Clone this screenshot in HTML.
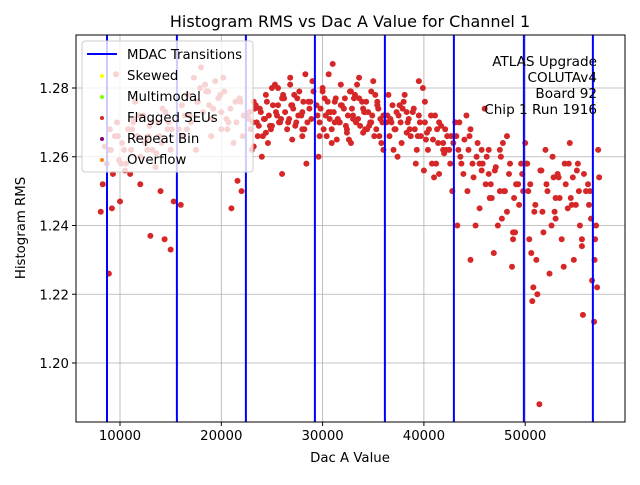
<!DOCTYPE html>
<html><head><meta charset="utf-8"><style>
html,body{margin:0;padding:0;background:#fff;}
svg text{font-family:"DejaVu Sans","Liberation Sans",sans-serif;}
</style></head><body>
<svg id="chart" width="640" height="480" viewBox="0 0 640 480" xmlns="http://www.w3.org/2000/svg">
<rect width="640" height="480" fill="#fff"/>
<text x="350" y="27" font-size="16" text-anchor="middle">Histogram RMS vs Dac A Value for Channel 1</text>
<g id="grid"></g>
<g id="points"></g>
<g id="mdac"></g>
<rect x="76" y="35" width="549" height="387" fill="none" stroke="#000" stroke-width="1"/>
<g id="ticks"></g>
<text x="350" y="462" font-size="13.3" text-anchor="middle">Dac A Value</text>
<text transform="translate(25,228) rotate(-90)" font-size="13.3" text-anchor="middle">Histogram RMS</text>
<g font-size="13.6" text-anchor="end">
<text x="597" y="66">ATLAS Upgrade</text>
<text x="597" y="82">COLUTAv4</text>
<text x="597" y="98">Board 92</text>
<text x="597" y="114">Chip 1  Run 1916</text>
</g>
<g>
<rect x="82" y="41" width="171" height="131" rx="3" fill="#fff" fill-opacity="0.8" stroke="#ccc"/>
<line x1="87" y1="54" x2="117" y2="54" stroke="#0000ff" stroke-width="2"/>
<text x="127" y="59" font-size="13.3">MDAC Transitions</text>
<circle cx="102" cy="76" r="2" fill="#ffff00"/><text x="127" y="80" font-size="13.3">Skewed</text>
<circle cx="102" cy="97" r="2" fill="#7fff00"/><text x="127" y="101" font-size="13.3">Multimodal</text>
<circle cx="102" cy="118" r="2" fill="#d62728"/><text x="127" y="122" font-size="13.3">Flagged SEUs</text>
<circle cx="102" cy="139" r="2" fill="#800080"/><text x="127" y="143" font-size="13.3">Repeat Bin</text>
<circle cx="102" cy="160" r="2" fill="#ff7f0e"/><text x="127" y="164" font-size="13.3">Overflow</text>
</g>
</svg>
<script>
const xTicks=[10000,20000,30000,40000,50000];
const yTicks=[1.20,1.22,1.24,1.26,1.28];
const yTickLabels=["1.20","1.22","1.24","1.26","1.28"];
const mdacTransitions=[8717,15617,22428,29240,36150,42960,49870,56681];
const dacValues=[
8100,8300,8500,8700,8900,9100,9300,9500,9700,9900,10200,10500,10800,11100,11400,11700,12000,12300,12600,12900,13200,13500,13800,14100,14400,14700,15000,15300,9000,10000,11000,12000,13000,14000,15000,9600,11500,13600,10600,12800,14800,
15800,16100,16400,16700,17000,17300,17600,17900,18200,18500,18800,19100,19400,19700,20000,20300,20600,20900,21200,21500,21800,22100,16000,17500,19000,20500,22000,21000,21600,18000,20000,
22600,22900,23200,23500,23800,24100,24400,24700,25000,25300,25600,25900,26200,26500,26800,27100,27400,27700,28000,28300,28600,28900,23000,24000,25000,26000,27000,28000,29000,23400,24600,25800,27200,28400,
29400,29700,30000,30300,30600,30900,31200,31500,31800,32100,32400,32700,33000,33300,33600,33900,34200,34500,34800,35100,35400,35700,36000,29600,30400,31000,31600,32200,32800,33400,34000,34600,35200,35800,30800,32600,34400,
36300,36600,36900,37200,37500,37800,38100,38400,38700,39000,39300,39600,39900,40200,40500,40800,41100,41400,41700,42000,42300,42600,42900,36500,37400,38300,39200,40100,41000,41900,42800,37000,39500,41500,
43100,43400,43700,44000,44300,44600,44900,45200,45500,45800,46100,46400,46700,47000,47300,47600,47900,48200,48500,48800,49100,49400,49700,43300,44200,45100,46000,46900,47800,48700,49600,44600,46400,48200,49000,45700,47500,
50000,50300,50600,50900,51200,51500,51800,52100,52400,52700,53000,53300,53600,53900,54200,54500,54800,55100,55400,55700,56000,56300,56600,50200,50800,51400,52000,52600,53200,53800,54400,55000,55600,56200,50700,51100,52900,54700,55200,56400,
56800,57000,57200,56900,57100,57300,56850,
9200,9800,10400,11200,11900,12500,13100,13900,14500,15100,8900,10100,11300,12700,14200,
16200,16900,17700,18400,19200,19900,20700,21400,22200,16600,18700,20200,21900,
22700,23100,23300,23700,23900,24300,24500,24900,25100,25500,25700,26100,26300,26700,26900,27300,27500,27900,28100,28500,28700,29100,22800,23600,24200,24800,25400,26000,26600,27000,27600,28200,28800,23200,24400,25600,26800,28000,
29500,29800,30100,30500,30700,31100,31300,31700,31900,32300,32500,32900,33100,33500,33700,34100,34300,34700,34900,35300,35500,35900,29700,30200,30600,31200,31800,32400,33000,33600,34200,34800,35400,36000,30000,31400,32800,34000,35000,30900,33200,35600,
36400,36800,37100,37300,37700,37900,38300,38500,38900,39100,39500,39700,40100,40300,40700,40900,41300,41500,41900,42100,42500,42700,36700,37600,38600,39400,40400,41200,42200,38000,40000,
43200,43600,43900,44400,44800,45300,45700,46200,46600,47100,47500,48000,48400,48900,49300,49800,43500,44500,45500,46500,47700,48800,
50100,50500,51000,51600,52200,52800,53400,54000,54600,55300,55800,56500,50400,51700,53000,54300,55600
];
const rmsValues=[
1.244,1.252,1.263,1.258,1.226,1.262,1.255,1.266,1.270,1.259,1.264,1.256,1.268,1.262,1.271,1.266,1.260,1.272,1.265,1.269,1.262,1.257,1.270,1.264,1.236,1.268,1.262,1.247,1.268,1.247,1.255,1.252,1.237,1.250,1.233,1.284,1.276,1.261,1.258,1.266,1.270,
1.268,1.275,1.272,1.278,1.270,1.283,1.276,1.280,1.273,1.279,1.275,1.271,1.282,1.277,1.273,1.279,1.268,1.274,1.264,1.270,1.277,1.266,1.246,1.262,1.266,1.271,1.250,1.245,1.253,1.286,1.268,
1.272,1.268,1.276,1.270,1.274,1.266,1.278,1.272,1.269,1.281,1.275,1.271,1.277,1.268,1.283,1.274,1.270,1.279,1.273,1.284,1.276,1.271,1.262,1.260,1.280,1.255,1.265,1.268,1.282,1.275,1.264,1.270,1.278,1.258,
1.275,1.270,1.279,1.272,1.284,1.268,1.276,1.271,1.281,1.274,1.267,1.279,1.272,1.270,1.283,1.276,1.268,1.273,1.279,1.266,1.275,1.271,1.262,1.260,1.266,1.287,1.270,1.277,1.264,1.281,1.274,1.269,1.278,1.264,1.273,1.265,1.268,
1.270,1.266,1.275,1.268,1.272,1.264,1.278,1.270,1.266,1.274,1.262,1.270,1.280,1.265,1.268,1.258,1.272,1.264,1.269,1.261,1.266,1.258,1.264,1.278,1.260,1.273,1.258,1.276,1.254,1.262,1.250,1.262,1.282,1.255,1.270,
1.262,1.258,1.265,1.250,1.268,1.254,1.260,1.245,1.258,1.252,1.262,1.248,1.256,1.240,1.260,1.250,1.244,1.258,1.236,1.252,1.246,1.255,1.240,1.272,1.240,1.274,1.232,1.264,1.228,1.258,1.230,1.255,1.266,1.238,1.262,1.250,1.264,
1.250,1.232,1.244,1.220,1.256,1.238,1.252,1.226,1.260,1.242,1.254,1.236,1.258,1.245,1.248,1.230,1.256,1.240,1.214,1.250,1.246,1.224,1.258,1.222,1.188,1.262,1.240,1.255,1.228,1.264,1.246,1.236,1.252,1.218,1.230,1.244,1.254,1.258,1.250,1.212,
1.240,1.262,1.236,1.222,1.254,1.230,1.245,
1.266,1.262,1.268,1.272,1.264,1.270,1.266,1.273,1.268,1.262,1.258,1.270,1.262,1.274,1.266,
1.272,1.276,1.281,1.274,1.278,1.270,1.276,1.272,1.268,1.279,1.283,1.276,1.271,
1.270,1.274,1.269,1.273,1.271,1.276,1.268,1.275,1.272,1.270,1.278,1.273,1.271,1.275,1.269,1.277,1.272,1.276,1.270,1.274,1.279,1.273,1.266,1.271,1.269,1.273,1.277,1.270,1.275,1.272,1.268,1.276,1.263,1.267,1.280,1.281,1.266,
1.272,1.274,1.268,1.276,1.271,1.273,1.277,1.270,1.275,1.269,1.272,1.274,1.277,1.271,1.269,1.273,1.276,1.270,1.272,1.268,1.274,1.270,1.266,1.277,1.273,1.270,1.275,1.268,1.271,1.277,1.273,1.270,1.276,1.272,1.280,1.265,1.279,1.267,1.282,1.264,1.278,1.266,
1.272,1.270,1.268,1.273,1.270,1.274,1.267,1.271,1.273,1.268,1.272,1.266,1.270,1.267,1.272,1.265,1.268,1.270,1.264,1.268,1.262,1.266,1.271,1.275,1.268,1.266,1.262,1.258,1.262,1.276,1.256,
1.266,1.260,1.255,1.262,1.258,1.264,1.256,1.260,1.252,1.257,1.262,1.250,1.255,1.248,1.252,1.250,1.270,1.266,1.258,1.248,1.242,1.238,
1.258,1.252,1.246,1.256,1.250,1.254,1.248,1.252,1.246,1.250,1.255,1.242,1.236,1.244,1.248,1.258,1.234
];
const NS="http://www.w3.org/2000/svg";
const X0=76,X1=625,Y0=35,Y1=422;
function xScale(v){return 18.7+v*0.01013;}
function yScale(v){return 88+(1.28-v)*3437.5;}
function mk(tag,attrs,parent){const e=document.createElementNS(NS,tag);for(const k in attrs)e.setAttribute(k,attrs[k]);parent.appendChild(e);return e;}
const grid=document.getElementById('grid'),ticks=document.getElementById('ticks');
xTicks.forEach(function(t){
  const x=xScale(t);
  const g=mk('line',{x1:x,x2:x,y1:Y0,y2:Y1,stroke:'#b0b0b0','stroke-width':0.8},grid);
  
  
  mk('line',{x1:x,x2:x,y1:Y1,y2:Y1+4,stroke:'#000'},ticks);
  const tx=mk('text',{x:x,y:Y1+18,'font-size':'13.3','text-anchor':'middle'},ticks);
  tx.textContent=String(t);
  
  
});
yTicks.forEach(function(t,i){
  const y=yScale(t);
  const g=mk('line',{x1:X0,x2:X1,y1:y,y2:y,stroke:'#b0b0b0','stroke-width':0.8},grid);
  
  
  mk('line',{x1:X0-4,x2:X0,y1:y,y2:y,stroke:'#000'},ticks);
  const tx=mk('text',{x:X0-7,y:y+5,'font-size':'13.3','text-anchor':'end'},ticks);
  tx.textContent=yTickLabels[i];
  
  
});
const pts=document.getElementById('points');
const n=Math.min(dacValues.length,rmsValues.length);
for(let i=0;i<n;i++){
  const c=mk('circle',{cx:xScale(dacValues[i]),cy:yScale(rmsValues[i]),r:3,fill:'#d62728'},pts);
  
  
}
const md=document.getElementById('mdac');
mdacTransitions.forEach(function(v){
  const x=xScale(v);
  const l=mk('line',{x1:x,x2:x,y1:Y0,y2:Y1,stroke:'#0000ff','stroke-width':2},md);
  
  
});
</script>
</body></html>
